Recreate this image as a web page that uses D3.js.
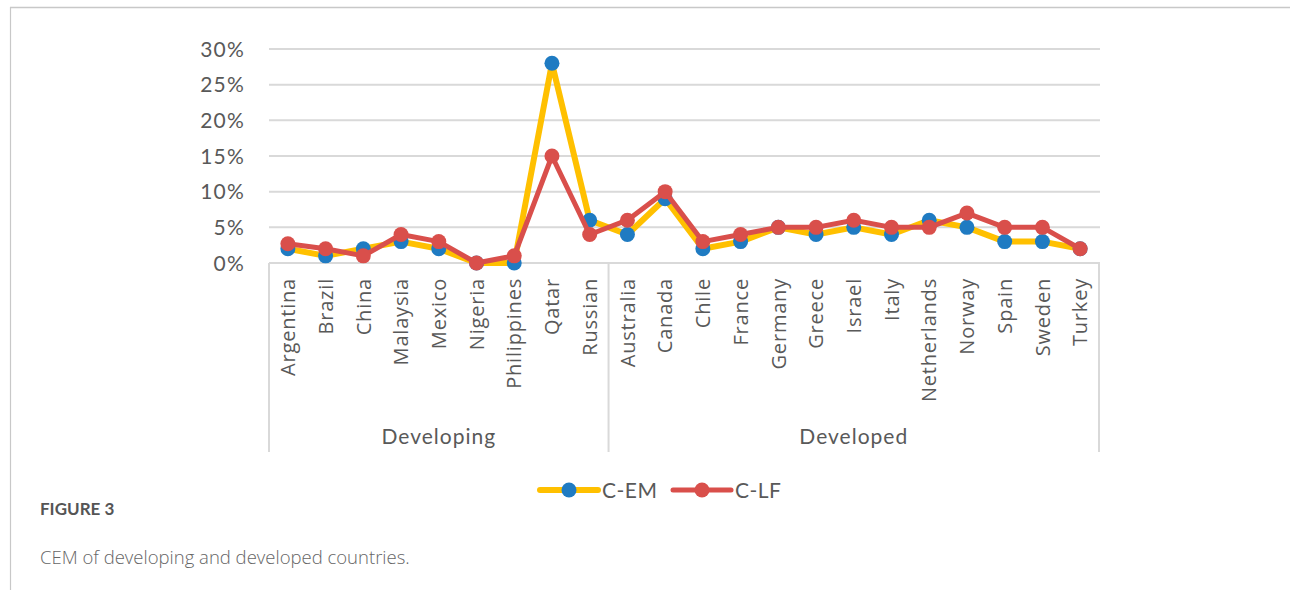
<!DOCTYPE html>
<html><head><meta charset="utf-8">
<script src="https://cdn.jsdelivr.net/npm/d3@7"></script>
<style>body{margin:0;background:#fff}svg{display:block}</style>
</head><body>
<script>
const categories = ["Argentina","Brazil","China","Malaysia","Mexico","Nigeria","Philippines","Qatar","Russian",
  "Australia","Canada","Chile","France","Germany","Greece","Israel","Italy","Netherlands","Norway","Spain","Sweden","Turkey"];
const groups = [{name:"Developing", count:9},{name:"Developed", count:13}];
const cEM = [2,1,2,3,2,0,0,28,6, 4,9,2,3,5,4,5,4,6,5,3,3,2];
const cLF = [2.7,2,1,4,3,0,1,15,4, 6,10,3,4,5,5,6,5,5,7,5,5,2];
const yTicks = [0,5,10,15,20,25,30];
const seriesNames = ["C-EM","C-LF"];

const W=1290,H=590;
const svg=d3.select("body").append("svg").attr("width",W).attr("height",H);
// frame
svg.append("line").attr("x1",10).attr("x2",W).attr("y1",7.5).attr("y2",7.5).attr("stroke","#c8c8c8").attr("stroke-width",1.5);
svg.append("line").attr("x1",10.5).attr("x2",10.5).attr("y1",7).attr("y2",H).attr("stroke","#c8c8c8").attr("stroke-width",1.2);

const x=d3.scaleBand().domain(categories).range([269,1099]);
const y=d3.scaleLinear().domain([0,30]).range([263,49]);
const cx=d=>x(d)+x.bandwidth()/2;

// gridlines
svg.append("g").selectAll("line").data(yTicks.filter(t=>t>0)).join("line")
  .attr("x1",269).attr("x2",1100).attr("y1",d=>y(d)).attr("y2",d=>y(d))
  .attr("stroke","#d9d9d9").attr("stroke-width",2);
// y labels
svg.append("g").selectAll("text").data(yTicks).join("text")
  .attr("x",245).attr("y",d=>y(d)).attr("dy","0.36em").attr("text-anchor","end")
  .attr("font-family","Lato, 'Open Sans', sans-serif").attr("font-size",21).attr("letter-spacing",1.2).attr("fill","#595959")
  .text(d=>d+"%");

// axis box
const boxC="#d9d9d9";
svg.append("line").attr("x1",269).attr("x2",1100).attr("y1",y(0)).attr("y2",y(0)).attr("stroke",boxC).attr("stroke-width",2);
let acc=0;
const seps=[0];
groups.forEach(g=>{acc+=g.count;seps.push(acc);});
const sepX=i=>i<categories.length?x(categories[i]):x.range()[1];
svg.append("g").selectAll("line").data(seps).join("line")
  .attr("x1",sepX).attr("x2",sepX)
  .attr("y1",y(0)).attr("y2",452).attr("stroke",boxC).attr("stroke-width",2);
// group labels
svg.append("g").selectAll("text").data(groups).join("text")
  .attr("x",(g,i)=>(sepX(seps[i])+sepX(seps[i+1]))/2)
  .attr("y",436).attr("dy","0.36em").attr("text-anchor","middle")
  .attr("font-family","Lato, 'Open Sans', sans-serif").attr("font-size",21).attr("letter-spacing",1).attr("fill","#595959")
  .text(g=>g.name);
// category labels
svg.append("g").selectAll("text").data(categories).join("text")
  .attr("transform",d=>`translate(${cx(d)},278) rotate(-90)`)
  .attr("text-anchor","end").attr("dy","0.36em")
  .attr("font-family","'Open Sans', sans-serif").attr("font-size",20).attr("letter-spacing",0.8).attr("fill","#595959")
  .text(d=>d);

// series
const series=[{name:seriesNames[0],vals:cEM,line:"#ffc000",dot:"#1f7bc2",lw:6},
              {name:seriesNames[1],vals:cLF,line:"#d94f4b",dot:"#d94f4b",lw:5}];
const line=d3.line().x((v,i)=>cx(categories[i])).y(v=>y(v));
series.forEach(s=>{
  const g=svg.append("g");
  g.append("path").datum(s.vals).attr("d",line).attr("fill","none").attr("stroke",s.line).attr("stroke-width",s.lw).attr("stroke-linejoin","round");
  g.selectAll("circle").data(s.vals).join("circle").attr("cx",(v,i)=>cx(categories[i])).attr("cy",v=>y(v)).attr("r",7.5).attr("fill",s.dot);
});

// legend
const leg=[{x:540,s:series[0]},{x:673,s:series[1]}];
leg.forEach(l=>{
  const g=svg.append("g");
  g.append("line").attr("x1",l.x).attr("x2",l.x+58).attr("y1",490).attr("y2",490).attr("stroke",l.s.line).attr("stroke-width",l.s.lw).attr("stroke-linecap","round");
  g.append("circle").attr("cx",l.x+29).attr("cy",490).attr("r",7.5).attr("fill",l.s.dot);
  g.append("text").attr("x",l.x+62).attr("y",490).attr("dy","0.36em").attr("font-family","Lato, 'Open Sans', sans-serif").attr("font-size",21).attr("letter-spacing",0.5).attr("fill","#595959").text(l.s.name);
});

// caption
svg.append("text").attr("x",40).attr("y",515).attr("font-family","Lato, sans-serif").attr("font-weight","bold").attr("font-size",17).attr("fill","#555").text("FIGURE 3");
svg.append("text").attr("x",40).attr("y",564).attr("font-family","'Open Sans', sans-serif").attr("font-size",18.5).attr("font-weight",300).attr("fill","#666").text("CEM of developing and developed countries.");
</script>
</body></html>
